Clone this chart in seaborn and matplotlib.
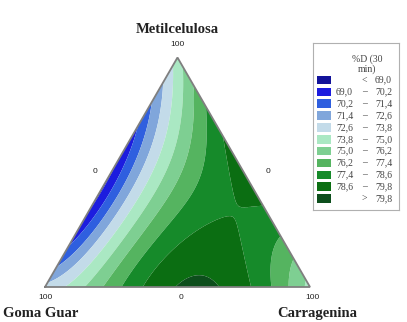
import numpy as np
import matplotlib
matplotlib.use("Agg")
import matplotlib.pyplot as plt
import matplotlib.tri as mtri
from matplotlib.patches import Rectangle
import seaborn as sns

# mixture components (A bottom-left, B bottom-right, C top)
components = ["Goma Guar", "Carragenina", "Metilcelulosa"]

# quartic Scheffe model for %D (30 min), coefficients
# terms: A, B, C, AB, AC, BC, AB(A-B), AC(A-C), BC(B-C), A2BC, AB2C, ABC2,
#        AB(A-B)2, AC(A-C)2, BC(B-C)2
model_coefs = [72.952, 74.600, 74.392, 24.283, -19.032, 18.507, -7.398, -2.569,
               -1.022, 73.441, -6.479, -13.507, -10.147, 0.069, -4.760]

level_edges = [69.0, 70.2, 71.4, 72.6, 73.8, 75.0, 76.2, 77.4, 78.6, 79.8]
level_colors = ["#12139a", "#1c1cdf", "#2f5fdf", "#80a6db", "#c3dbe9", "#aae8c3",
                "#7ecf92", "#55b460", "#168a2a", "#0b6e12", "#0d4e1c"]
legend_title = "%D (30\nmin)"


def model_terms(A, B, C):
    return np.array([A, B, C, A * B, A * C, B * C,
                     A * B * (A - B), A * C * (A - C), B * C * (B - C),
                     A * A * B * C, A * B * B * C, A * B * C * C,
                     A * B * (A - B) ** 2, A * C * (A - C) ** 2, B * C * (B - C) ** 2])


def fmt(v):
    return f"{v:.1f}".replace(".", ",")


sns.set_style("white")
plt.rcParams["font.family"] = ["Liberation Serif", "DejaVu Serif"]

fig = plt.figure(figsize=(4.07, 3.22), dpi=100)
ax = fig.add_axes([0, 0, 1, 1])
# ternary cartesian: x = B + C/2, y = C*sqrt(3)/2
ax.set_xlim(-45 / 265, 362 / 265)
ax.set_ylim(-35 / 265, 287 / 265)
ax.axis("off")

# barycentric grid
n = 90
A, B, C = [], [], []
for i in range(n + 1):
    for j in range(n + 1 - i):
        A.append(i / n)
        B.append(j / n)
        C.append((n - i - j) / n)
A, B, C = np.array(A), np.array(B), np.array(C)
Z = model_terms(A, B, C).T @ np.array(model_coefs)
h = np.sqrt(3) / 2
tri = mtri.Triangulation(B + C / 2, C * h)
levels = [min(Z.min(), 60)] + level_edges + [max(Z.max(), 90)]
ax.tricontourf(tri, Z, levels=levels, colors=level_colors, antialiased=True)
ax.plot([0, 1, 0.5, 0], [0, 0, h, 0], color="#7f7f7f", lw=1.3, solid_joinstyle="miter")

tick_kw = dict(family=["Liberation Sans", "DejaVu Sans"], fontsize=6, color="#222222")
name_kw = dict(fontsize=10.5, fontweight="bold", color="#222222")
ax.text(0.5, h + 0.05, "100", ha="center", va="center", **tick_kw)
ax.text(0.5, h + 0.105, components[2], ha="center", va="center", **name_kw)
ax.text(0.19, 0.435, "0", ha="center", va="center", **tick_kw)
ax.text(0.84, 0.435, "0", ha="center", va="center", **tick_kw)
ax.text(0.0, -0.04, "100", ha="center", va="center", **tick_kw)
ax.text(0.513, -0.04, "0", ha="center", va="center", **tick_kw)
ax.text(1.008, -0.04, "100", ha="center", va="center", **tick_kw)
ax.text(-0.158, -0.1, components[0], ha="left", va="center", **name_kw)
ax.text(1.026, -0.1, components[1], ha="center", va="center", **name_kw)

# legend box
lax = fig.add_axes([313 / 407, 1 - 210 / 322, 86 / 407, 167 / 322])
lax.set_xlim(0, 86)
lax.set_ylim(167, 0)
lax.set_xticks([])
lax.set_yticks([])
for sp in lax.spines.values():
    sp.set_color("#b0b0b0")
    sp.set_linewidth(0.8)
lax.text(54, 21, legend_title, ha="center", va="center", fontsize=7,
         color="#444444", linespacing=1.0)
txt_kw = dict(fontsize=7, color="#444444", va="center")
for k, col in enumerate(level_colors):
    y0 = 32.7 + k * 11.86
    lax.add_patch(Rectangle((4.3, y0), 13.4, 8.6, facecolor=col, edgecolor="none"))
    yc = y0 + 4.3
    if k == 0:
        lax.text(51, yc, "<", ha="center", **txt_kw)
        lax.text(62, yc, fmt(level_edges[0]), ha="left", **txt_kw)
    elif k == len(level_colors) - 1:
        lax.text(51, yc, ">", ha="center", **txt_kw)
        lax.text(62, yc, fmt(level_edges[-1]), ha="left", **txt_kw)
    else:
        lax.text(23, yc, fmt(level_edges[k - 1]), ha="left", **txt_kw)
        lax.text(51, yc, "–", ha="center", **txt_kw)
        lax.text(62, yc, fmt(level_edges[k]), ha="left", **txt_kw)

fig.savefig("out.png", dpi=100)
